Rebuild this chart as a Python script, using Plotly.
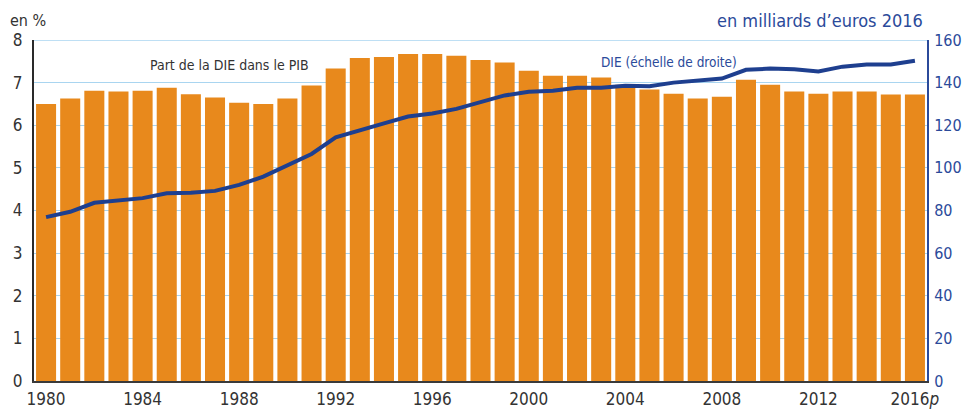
import plotly.graph_objects as go

years = list(range(1980, 2017))
part_pib = [6.50, 6.63, 6.81, 6.79, 6.81, 6.88, 6.73, 6.65, 6.53, 6.50,
            6.63, 6.93, 7.33, 7.58, 7.60, 7.67, 7.67, 7.63, 7.53, 7.47,
            7.28, 7.16, 7.16, 7.12, 6.95, 6.84, 6.74, 6.63, 6.67, 7.07,
            6.95, 6.79, 6.74, 6.79, 6.79, 6.72, 6.72]
die = [76.9, 79.4, 83.6, 84.5, 85.8, 88.1, 88.3, 89.2, 92.0, 95.9,
       101.0, 106.5, 114.3, 117.8, 120.9, 124.1, 125.5, 127.7, 130.7, 134.0,
       135.7, 136.2, 137.6, 137.6, 138.5, 138.3, 140.0, 140.8, 141.9, 146.0,
       146.6, 146.3, 145.2, 147.5, 148.5, 148.5, 150.3]
tick_years = [1980, 1984, 1988, 1992, 1996, 2000, 2004, 2008, 2012, 2016]
tick_text = ["1980", "1984", "1988", "1992", "1996", "2000", "2004", "2008", "2012", "2016<i>p</i>"]

FONT = "DejaVu Sans Condensed, Liberation Sans Narrow, Liberation Sans, sans-serif"
ORANGE = "#E8891C"
BLUE = "#1E3F8F"
AXBLUE = "#2B4A9A"
GRID = "#A9D5F0"

# page body has an 8px margin: figure is drawn 8px in from the window edge
W, H = 962, 401
ML, MR, MT, MB = 26, 43, 32, 28
PW, PH = W - ML - MR, H - MT - MB

fig = go.Figure()
fig.add_trace(go.Bar(x=years, y=part_pib, marker=dict(color=ORANGE, line=dict(width=0)),
                     name="Part de la DIE dans le PIB", yaxis="y"))
fig.add_trace(go.Scatter(x=years, y=die, mode="lines", line=dict(color=BLUE, width=4),
                         name="DIE (échelle de droite)", yaxis="y2"))

fig.update_layout(
    width=W, height=H,
    margin=dict(l=ML, r=MR, t=MT, b=MB, autoexpand=False),
    plot_bgcolor="white", paper_bgcolor="white",
    showlegend=False, bargap=0.17,
    font=dict(family=FONT, size=16, color="#333333"),
    xaxis=dict(range=[1979.5, 2016.5], tickvals=tick_years, ticktext=tick_text,
               showgrid=False, zeroline=False, showline=True, linecolor="#3a3a3a", linewidth=2,
               ticks="", tickfont=dict(size=17, color="#333333"), automargin=False,
               ticklabelstandoff=2),
    yaxis=dict(range=[0, 8], dtick=1, showgrid=True, gridcolor=GRID, gridwidth=1,
               zeroline=False, showline=True, linecolor="#2a2a2a", linewidth=2,
               ticks="", tickfont=dict(size=17, color="#333333"), automargin=False,
               ticklabelstandoff=6),
    yaxis2=dict(range=[0, 160], dtick=20, overlaying="y", side="right", showgrid=False,
                zeroline=False, showline=True, linecolor=AXBLUE, linewidth=2,
                ticks="", tickfont=dict(size=16, color=AXBLUE), automargin=False,
                ticklabelstandoff=2),
    shapes=[dict(type="line", xref="paper", yref="y", x0=0, x1=1, y0=8, y1=8,
                 line=dict(color=GRID, width=1.5), layer="below")],
    annotations=[
        dict(text="en %", xref="paper", yref="paper", x=-ML / PW, y=1 + 20 / PH, xanchor="left",
             yanchor="middle", showarrow=False, font=dict(size=16, color="#333333")),
        dict(text="en milliards d’euros 2016", xref="paper", yref="paper", x=(917 - ML) / PW,
             y=1 + 20 / PH, xanchor="right", yanchor="middle", showarrow=False,
             font=dict(size=18, color=AXBLUE)),
        dict(text="Part de la DIE dans le PIB", x=1987.6, y=7.42, xref="x", yref="y",
             xanchor="center", yanchor="middle", showarrow=False, font=dict(size=14, color="#333333")),
        dict(text="DIE (échelle de droite)", x=2005.8, y=7.48, xref="x", yref="y",
             xanchor="center", yanchor="middle", showarrow=False, font=dict(size=13.5, color=AXBLUE)),
    ],
)

fig.write_html("out.html")
